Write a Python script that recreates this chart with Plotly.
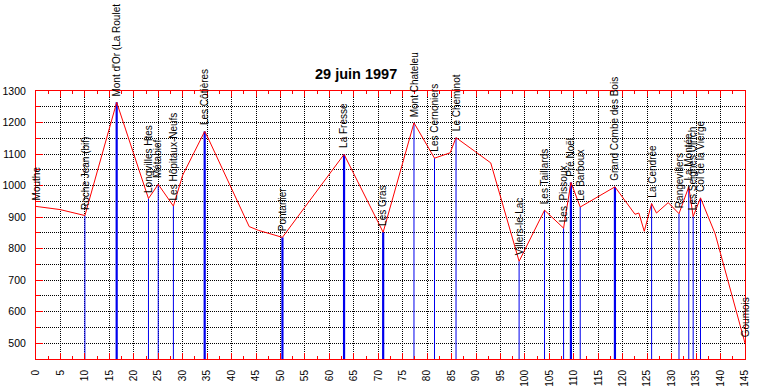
import plotly.graph_objects as go

# Elevation profile (km along route, elevation in m)
profile_km = [0, 4.9, 10.0, 16.5, 23.0, 25.0, 28.1, 30.0, 34.5, 35.4, 43.6, 45.5, 49.9, 50.4,
              63.0, 71.0, 77.3, 81.5, 84.7, 85.9, 89.9, 93.0, 98.8, 104.0, 107.9, 109.4,
              111.3, 118.4, 122.5, 123.3, 124.4, 125.9, 126.9, 129.3, 131.5, 133.5, 134.4,
              135.9, 138.9, 145.0]
profile_elev = [934, 924, 905, 1264, 959, 1004, 935, 1033, 1172, 1144, 870, 858, 838, 836,
                1099, 852, 1199, 1087, 1104, 1152, 1107, 1072, 760, 922, 865, 1010,
                932, 996, 909, 913, 855, 943, 913, 946, 911, 996, 902,
                961, 847, 500]

# Named places
place_names = ["Mouthe", "Roche Jean (bif)", "Mont d'Or (La Roulet", "Longvilles Htes", "Métabief",
               "Les Hôpitaux-Neufs", "Les Côtières", "Pontarlier", "La Fresse", "Les Gras",
               "Mont Chateleu", "Les Cernoniers", "Le Cheminot", "Villers-le-Lac", "Les Taillards",
               "Les  Pissoux", "Pré Noël", "Le Barboux", "Grand Combe des Bois", "La Cendrée",
               "Rangevillers", "La Montée", "Les Seignes Ulrich", "Col de la Vierge", "Goumois"]
place_km = [0, 10.0, 16.5, 23.0, 25.0, 28.1, 34.5, 50.4, 63.0, 71.0, 77.3, 81.5, 85.9, 98.8,
            104.0, 107.9, 109.4, 111.3, 118.4, 125.9, 131.5, 133.5, 134.4, 135.9, 145.0]
place_elev = [934, 905, 1264, 959, 1004, 935, 1172, 836, 1099, 852, 1199, 1087, 1152, 760,
              922, 865, 1010, 932, 996, 943, 911, 996, 902, 961, 500]
# 2 = major stop, 1 = minor stop, 0 = no marker
place_rank = [0, 1, 2, 1, 1, 1, 2, 2, 2, 2, 1, 1, 1, 1, 1, 1, 2, 1, 2, 1, 1, 1, 1, 1, 0]

title_text = "29 juin 1997"
y_min, y_max = 450, 1300
x_min, x_max = 0, 145

FONT = "Arial, Liberation Sans, sans-serif"

fig = go.Figure()

for rank, width in [(1, 1), (2, 2.2)]:
    xs, ys = [], []
    for k, e, r in zip(place_km, place_elev, place_rank):
        if r == rank:
            xs += [k, k, None]
            ys += [y_min, e, None]
    fig.add_trace(go.Scatter(x=xs, y=ys, mode="lines",
                             line=dict(color="#0000ee", width=width),
                             hoverinfo="skip", showlegend=False))

fig.add_trace(go.Scatter(x=profile_km, y=profile_elev, mode="lines",
                         line=dict(color="#ff0000", width=1),
                         showlegend=False))

for name, k, e in zip(place_names, place_km, place_elev):
    fig.add_annotation(x=k, y=e, text=name, showarrow=False, textangle=-90,
                       xanchor="center", yanchor="bottom", yshift=4,
                       font=dict(family=FONT, size=10, color="black"))

fig.add_annotation(xref="paper", yref="paper", x=0.451, y=1, yshift=17,
                   xanchor="center", yanchor="middle", showarrow=False,
                   text="<b>" + title_text + "</b>",
                   font=dict(family=FONT, size=14.5, color="black"))

grid = dict(gridcolor="#000000", griddash="1px,1px", gridwidth=1)

fig.update_xaxes(range=[x_min, x_max], dtick=5, tick0=0, tickangle=-90,
                 ticks="inside", ticklen=6, tickcolor="#ff0000", tickwidth=1,
                 showline=True, linecolor="#ff0000", linewidth=1, mirror="ticks",
                 showgrid=True, zeroline=False, ticklabelstandoff=6, automargin=False,
                 tickfont=dict(family=FONT, size=10, color="black"),
                 minor=dict(dtick=2.5, ticks="inside", ticklen=3, tickcolor="#ff0000",
                            showgrid=False),
                 **grid)
fig.update_yaxes(range=[y_min, y_max], dtick=100, tick0=0,
                 ticks="inside", ticklen=7, tickcolor="#ff0000", tickwidth=1,
                 showline=True, linecolor="#ff0000", linewidth=1, mirror=True,
                 showgrid=True, zeroline=False, ticklabelstandoff=7, automargin=False,
                 tickfont=dict(family=FONT, size=10.5, color="black"),
                 minor=dict(dtick=50, ticks="inside", ticklen=4, tickcolor="#ff0000",
                            showgrid=True, gridcolor="#000000", griddash="1px,1px",
                            gridwidth=1),
                 **grid)

fig.update_layout(width=757, height=389, margin=dict(l=36, r=12, t=91, b=30, autoexpand=False),
                  paper_bgcolor="white", plot_bgcolor="white", showlegend=False)

fig.write_html("out.html", config={"displayModeBar": False},
               post_script="document.body.style.margin='0';")
